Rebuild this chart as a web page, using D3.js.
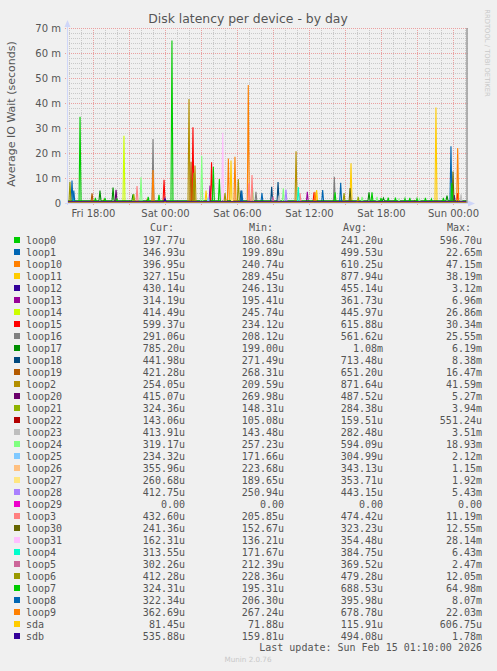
<!DOCTYPE html>
<meta charset="utf-8">
<title>Disk latency per device - by day</title>
<style>
  html, body { margin: 0; padding: 0; background: #f0f0f0; }
  svg { display: block; }
  text { fill: #555; }
</style>
<body>
<div id="container"></div>
<script src="https://cdn.jsdelivr.net/npm/d3@7/dist/d3.min.js"></script>
<script>

// legend rows, in munin's order
const names = ["loop0","loop1","loop10","loop11","loop12","loop13","loop14","loop15","loop16","loop17",
  "loop18","loop19","loop2","loop20","loop21","loop22","loop23","loop24","loop25","loop26","loop27",
  "loop28","loop29","loop3","loop30","loop31","loop4","loop5","loop6","loop7","loop8","loop9","sda","sdb"];

const curVals = ["197.77u","346.93u","396.95u","327.15u","430.14u","314.19u","414.49u","599.37u","291.06u","785.20u",
  "441.98u","421.28u","254.05u","415.07u","324.36u","143.06u","413.91u","319.17u","234.32u","355.96u","260.68u",
  "412.75u","0.00","432.60u","241.36u","162.31u","313.55u","302.26u","412.28u","324.31u","322.34u","362.69u","81.45u","535.88u"];
const minVals = ["180.68u","199.89u","240.74u","289.45u","246.13u","195.41u","245.74u","234.12u","208.12u","199.00u",
  "271.49u","268.31u","209.59u","269.98u","148.31u","105.08u","143.48u","257.23u","171.66u","223.68u","189.65u",
  "250.94u","0.00","205.85u","152.67u","136.21u","171.67u","212.39u","228.36u","195.31u","206.30u","267.24u","71.88u","159.81u"];
const avgVals = ["241.20u","499.53u","610.25u","877.94u","455.14u","361.73u","445.97u","615.88u","561.62u","1.08m",
  "713.48u","651.20u","871.64u","487.52u","284.38u","159.51u","282.48u","594.09u","304.99u","343.13u","353.71u",
  "443.15u","0.00","474.42u","323.23u","354.48u","384.75u","369.52u","479.28u","688.53u","395.98u","678.78u","115.91u","494.08u"];
const maxVals = ["596.70u","22.65m","47.15m","38.19m","3.12m","6.96m","26.86m","30.34m","25.55m","6.19m",
  "8.38m","16.47m","41.59m","5.27m","3.94m","551.24u","3.51m","18.93m","2.12m","1.15m","1.92m",
  "5.43m","0.00","11.19m","12.55m","28.14m","6.43m","2.47m","12.05m","64.98m","8.07m","22.03m","606.75u","1.78m"];

// munin palette (wraps after 29 entries)
const palette = ["#00CC00","#0066B3","#FF8000","#FFCC00","#330099","#990099","#CCFF00","#FF0000","#808080",
  "#008F00","#00487D","#B35A00","#B38F00","#6B006B","#8FB300","#B30000","#BEBEBE","#80FF80","#80C9FF",
  "#FFC080","#FFE680","#AA80FF","#EE00CC","#FF8080","#666600","#FFBFFF","#00FFCC","#CC6699","#999900"];

// typical resting level of each device, ms
const baseLevel = [0.22,0.3,0.35,0.4,0.4,0.3,0.35,0.4,0.3,0.9,
  0.45,0.45,0.35,0.4,0.25,0.15,0.25,0.4,0.25,0.3,0.3,
  0.4,0,0.35,0.25,0.25,0.3,0.3,0.35,0.35,0.3,0.45,0.1,0.5];

// spikes: [hours since Fri 00:00, ms]
const spikes = [
  [[30.5,0.6]],                                                         // loop0
  [[16.25,9.0],[32.08,4.0],[37.14,5.2],[47.83,22.65]],                  // loop1
  [[18.9,1.2],[22.5,1.4],[26.25,10],[29.28,17.8],[30.94,47.15],[44.8,1.0]], // loop10
  [[27.42,5.0],[29.5,17],[36.64,5.2],[39.5,15.9],[46.58,38.19]],        // loop11
  [[48.1,3.12]],                                                        // loop12
  [[27.75,6.96],[35.86,4.5]],                                           // loop13
  [[20.58,26.86]],                                                      // loop14
  [[23.92,9.3],[26.33,30.34],[27.88,16.3],[36.42,4.3],[48.39,4.0]],     // loop15
  [[23.0,25.55],[31.58,4.5],[38.11,10.5]],                              // loop16
  [[18.58,5.0],[19.67,6.19],[21.33,3.5],[41.0,4.3],[42.2,2.0],[47.5,3.0]], // loop17
  [[30.33,5.0],[32.89,6.5],[33.42,8.38]],                               // loop18
  [[17.92,3.9],[26.17,16.47]],                                          // loop19
  [[26.0,41.59],[26.5,15],[34.92,20.7]],                                // loop2
  [[19.92,5.27]],                                                       // loop20
  [[21.4,3.6],[40.1,2.5]],                                              // loop21
  [[33.0,0.55]],                                                        // loop22
  [[33.5,3.0],[48.67,3.51]],                                            // loop23
  [[22.0,10.3],[27.06,18.93],[31.3,5.5],[33.86,5.9],[40.42,2.5],[41.67,2.5],
   [43.5,1.5],[45.2,1.6]],                                              // loop24
  [[27.6,2.12]],                                                        // loop25
  [[29.1,1.15]],                                                        // loop26
  [[29.6,1.92]],                                                        // loop27
  [[34.08,5.43]],                                                       // loop28
  [],                                                                   // loop29
  [[21.67,6.8],[31.0,8.0],[31.25,11.19],[35.25,4.0]],                   // loop3
  [[39.42,6.0],[48.0,12.55]],                                           // loop30
  [[28.81,28.14]],                                                      // loop31
  [[16.4,2.0],[35.11,6.43]],                                            // loop4
  [[33.0,2.47]],                                                        // loop5
  [[16.08,8.5],[26.4,12.05],[29.0,4.0],[30.11,9.6],[38.92,4.0]],        // loop6
  [[16.92,34.5],[18.2,2.0],[19.0,2.0],[20.0,1.5],[22.6,2.5],[23.5,3.3],[24.58,64.98],
   [28.03,14.5],[28.53,9.6],[38.17,4.3],[41.25,4.3],[42.0,2.0],[42.6,2.2],[43.2,2.2],
   [44.0,1.8],[44.4,2.0],[45.0,1.8],[45.7,2.0],[46.2,1.6],[47.2,2.0],[47.9,8.0]], // loop7
  [[16.4,5.0],[30.4,5.0],[38.64,8.07]],                                 // loop8
  [[23.0,13.2],[29.83,18.5],[36.5,4.5],[48.39,22.03]],                  // loop9
  [[40.0,0.6]],                                                         // sda
  [[24.0,1.78]]                                                         // sdb
];

const yMajor = [0,10,20,30,40,50,60,70];

const width = 497, height = 671;
const pLeft = 67, pRight = 467, pTop = 28, pBottom = 203;

const day0 = new Date(2026, 1, 13).getTime();
const at = h => new Date(day0 + h * 3600e3);

const x = d3.scaleTime().domain([at(15 + 50/60), at(49 + 10/60)]).range([pLeft, pRight]);
const y = d3.scaleLinear().domain([0, 70]).range([pBottom, pTop]);

const svg = d3.select('#container').append('svg')
  .attr('width', width).attr('height', height)
  .style('font-family', '"DejaVu Sans", sans-serif');

svg.append('rect').attr('width', width).attr('height', height).attr('fill', '#f0f0f0');

// grid
const grid = svg.append('g').attr('shape-rendering', 'crispEdges');
d3.range(0, 71, 2).filter(v => v % 10).forEach(v => {
  grid.append('line').attr('x1', pLeft).attr('x2', pRight + 2).attr('y1', Math.round(y(v)) + .5).attr('y2', Math.round(y(v)) + .5)
    .attr('stroke', '#c8c8c8').attr('stroke-dasharray', '1,1');
});
x.ticks(d3.timeHour.every(1)).filter(d => d.getHours() % 3).forEach(d => {
  grid.append('line').attr('y1', pTop).attr('y2', pBottom).attr('x1', Math.round(x(d)) + .5).attr('x2', Math.round(x(d)) + .5)
    .attr('stroke', '#c8c8c8').attr('stroke-dasharray', '1,1');
});
yMajor.filter(v => v).forEach(v => {
  grid.append('line').attr('x1', pLeft - 2).attr('x2', pRight + 2).attr('y1', Math.round(y(v)) + .5).attr('y2', Math.round(y(v)) + .5)
    .attr('stroke', '#eaa0a0').attr('stroke-dasharray', '1,1');
});
x.ticks(d3.timeHour.every(3)).forEach(d => {
  grid.append('line').attr('y1', pTop).attr('y2', pBottom + 2).attr('x1', Math.round(x(d)) + .5).attr('x2', Math.round(x(d)) + .5)
    .attr('stroke', '#eaa0a0').attr('stroke-dasharray', '1,1');
});

// data lines
svg.append('clipPath').attr('id', 'plot').append('rect')
  .attr('x', pLeft).attr('y', pTop - 2).attr('width', pRight - pLeft).attr('height', pBottom - pTop + 2);

const line = d3.line().x(d => x(at(d[0]))).y(d => y(d[1]));
const step = 1 / 12;
const lines = svg.append('g').attr('clip-path', 'url(#plot)');
names.forEach((n, i) => {
  const b = baseLevel[i];
  const pts = [[15.5, b]];
  spikes[i].forEach(s => { pts.push([s[0] - step, b], s, [s[0] + step, b]); });
  pts.push([49.5, b]);
  pts.sort((a, c) => a[0] - c[0]);
  lines.append('path').attr('d', line(pts))
    .attr('fill', 'none').attr('stroke', palette[i % palette.length]).attr('stroke-width', 1.1);
});

// right frame line
svg.append('line').attr('x1', pRight).attr('x2', pRight).attr('y1', pTop).attr('y2', pBottom)
  .attr('stroke', '#9a9a9a').attr('stroke-width', 1.5);

// axes
const axisCol = '#cfd6f8';
svg.append('line').attr('x1', pLeft + .5).attr('x2', pLeft + .5).attr('y1', pBottom + 2).attr('y2', pTop - 4).attr('stroke', axisCol);
svg.append('line').attr('x1', pLeft - 2).attr('x2', pRight + 4).attr('y1', pBottom + .5).attr('y2', pBottom + .5).attr('stroke', axisCol);
svg.append('path').attr('d', `M${pLeft - 2.5},${pTop - 1} L${pLeft + .5},${pTop - 8} L${pLeft + 3.5},${pTop - 1} Z`).attr('fill', axisCol);
svg.append('path').attr('d', `M${pRight + 1},${pBottom - 2.5} L${pRight + 8},${pBottom + .5} L${pRight + 1},${pBottom + 3.5} Z`).attr('fill', axisCol);

const yAxis = svg.append('g').attr('transform', `translate(${pLeft - 5},0)`)
  .call(d3.axisLeft(y).tickValues(yMajor).tickSize(0).tickPadding(1)
    .tickFormat(v => v ? v + ' m' : '0'));
yAxis.select('.domain').remove();
yAxis.selectAll('text').attr('font-size', 10).attr('fill', '#555').attr('dy', '0.35em')
  .style('font-family', '"DejaVu Sans", sans-serif');

const xAxis = svg.append('g').attr('transform', `translate(0,${pBottom + 4})`)
  .call(d3.axisBottom(x).ticks(d3.timeHour.every(6)).tickSize(0).tickPadding(3)
    .tickFormat(d3.timeFormat('%a %H:%M')));
xAxis.select('.domain').remove();
xAxis.selectAll('text').attr('font-size', 10).attr('fill', '#555')
  .style('font-family', '"DejaVu Sans", sans-serif');

// titles
svg.append('text').attr('x', 248).attr('y', 23).attr('text-anchor', 'middle')
  .attr('font-size', 12.4).text('Disk latency per device - by day');
svg.append('text').attr('transform', 'translate(15,114) rotate(-90)').attr('text-anchor', 'middle')
  .attr('font-size', 11).text('Average IO Wait (seconds)');
svg.append('text').attr('transform', 'translate(485,53) rotate(90)').attr('text-anchor', 'middle')
  .attr('font-size', 6.8).style('fill', '#c8c8c8').text('RRDTOOL / TOBI OETIKER');

// legend
const mono = '"DejaVu Sans Mono", monospace';
const leg = svg.append('g').style('font-family', mono).attr('font-size', 10);
[['Cur:', 150], ['Min:', 249], ['Avg:', 343], ['Max:', 447]].forEach(([t, px]) => {
  leg.append('text').attr('x', px).attr('y', 231).text(t);
});
const cols = [[curVals, 185], [minVals, 284], [avgVals, 383], [maxVals, 482]];
names.forEach((n, i) => {
  const cy = 240 + 12 * i;
  leg.append('rect').attr('x', 14).attr('y', cy - 3).attr('width', 6).attr('height', 6)
    .attr('fill', palette[i % palette.length]);
  leg.append('text').attr('x', 26).attr('y', cy + 3.5).text(n);
  cols.forEach(([vals, px]) => {
    leg.append('text').attr('x', px).attr('y', cy + 3.5).attr('text-anchor', 'end').text(vals[i]);
  });
});
leg.append('text').attr('x', 482).attr('y', 651).attr('text-anchor', 'end')
  .text('Last update: Sun Feb 15 01:10:00 2026');
svg.append('text').attr('x', 248).attr('y', 662).attr('text-anchor', 'middle')
  .attr('font-size', 7.2).style('fill', '#c8c8c8').text('Munin 2.0.76');

</script>
</body>
